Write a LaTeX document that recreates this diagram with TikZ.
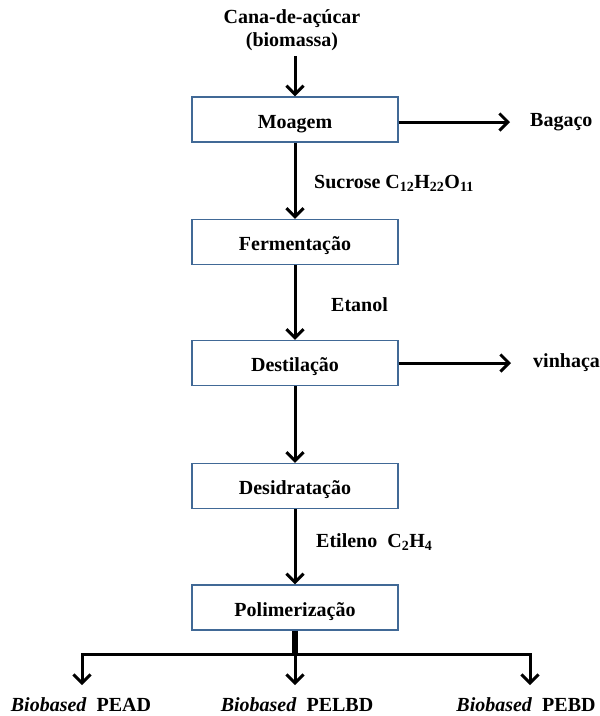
\documentclass[tikz,border=0pt]{standalone}
\usepackage{fontspec}
\setmainfont{Liberation Serif}
\usetikzlibrary{arrows.meta}
\definecolor{boxline}{RGB}{65,105,150}
\tikzset{
  txt/.style={inner sep=0pt, font=\fontsize{20}{23}\bfseries\selectfont, align=center},
  stepbox/.style={draw=boxline, line width=1.3pt, minimum width=206pt, minimum height=45pt,
    inner sep=0pt, text height=17pt, text depth=0pt, font=\fontsize{20}{24}\bfseries\selectfont},
  flow/.style={line width=3pt, -{Straight Barb[length=8.5pt,width=17pt,line width=3pt]}},
  trunk/.style={line width=6pt},
}
\begin{document}
\begin{tikzpicture}[x=1pt,y=-1pt]
\useasboundingbox (0,0) rectangle (600,716);

% process chain
\node[txt] (cana) at (292,30) {Cana-de-açúcar\\(biomassa)};
\node[stepbox] (moa) at (295,119.5) {Moagem};
\node[stepbox] (fer) at (295,242) {Fermentação};
\node[stepbox] (des) at (295,363) {Destilação};
\node[stepbox] (dsd) at (295,486) {Desidratação};
\node[stepbox] (pol) at (295,607.5) {Polimerização};

% side products and stream labels
\node[txt, anchor=west] (bag) at (530,122) {Bagaço};
\node[txt, anchor=west] (vin) at (533,363) {vinhaça};
\node[txt, anchor=west] (suc) at (314,183) {Sucrose C\textsubscript{12}H\textsubscript{22}O\textsubscript{11}};
\node[txt, anchor=west] (eta) at (331,305) {Etanol};
\node[txt, anchor=west] (eti) at (316,542) {Etileno~~C\textsubscript{2}H\textsubscript{4}};
\coordinate (bagtip) at ([xshift=-20pt]bag.west);
\coordinate (vintip) at ([xshift=-22pt]vin.west);

% final products
\node[txt, anchor=base] (pead) at (81,711) {\textit{Biobased}~~PEAD};
\node[txt, anchor=base] (pelbd) at (297,711) {\textit{Biobased}~~PELBD};
\node[txt, anchor=base] (pebd) at (526,711) {\textit{Biobased}~~PEBD};
\coordinate (split) at (295,654);
\coordinate (leftip) at ([xshift=1pt,yshift=26pt]pead.base);
\coordinate (midtip) at ([yshift=26pt]pelbd.base);
\coordinate (rightip) at ([xshift=4pt,yshift=26pt]pebd.base);

% connectors
\draw[flow] ([yshift=-5pt]cana.south -| moa.north) -- (moa.north);
\draw[flow] (moa.south) -- (fer.north);
\draw[flow] (fer.south) -- (des.north);
\draw[flow] (des.south) -- (dsd.north);
\draw[flow] (dsd.south) -- (pol.north);
\draw[flow] ([yshift=-2.5pt]moa.east) -- ([yshift=-2.5pt]moa.east -| bagtip);
\draw[flow] (des.east) -- (des.east -| vintip);

\draw[trunk] (pol.south) -- ([yshift=1.5pt]split);
\draw[flow] (split) -| (leftip);
\draw[flow] (split) -| (rightip);
\draw[flow] (split) -- (split |- midtip);
\end{tikzpicture}
\end{document}
